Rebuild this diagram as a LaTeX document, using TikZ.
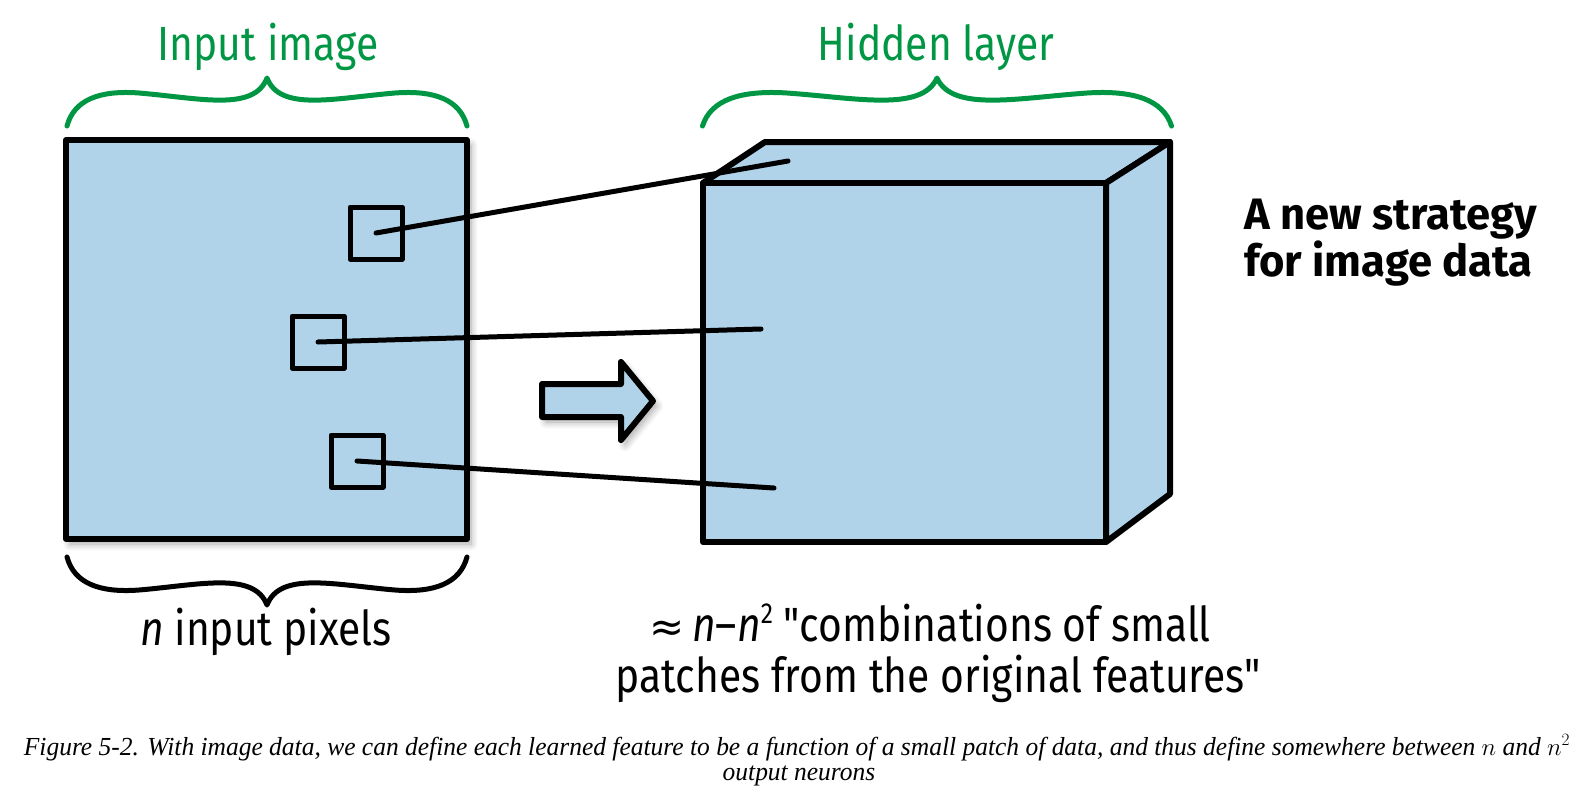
\documentclass[tikz,border=0pt]{standalone}
\usepackage{fontspec}
\setmainfont{Fira Sans}[FakeStretch=0.85, Ligatures=TeXOff]
\newfontfamily\stratfont{Fira Sans}[FakeStretch=0.99]
\newfontfamily\capfont{Liberation Serif}[FakeStretch=0.98]
\newfontfamily\symfont{DejaVu Sans}
\usetikzlibrary{shadows.blur}
\definecolor{boxblue}{RGB}{176,211,234}
\definecolor{bracegreen}{RGB}{0,150,68}
\tikzset{
  box/.style={draw=black, fill=boxblue, line width=6pt, line join=round, inner sep=0pt},
  patch/.style={draw=black, line width=5pt, minimum size=52pt, inner sep=0pt, line join=round},
  link/.style={draw=black, line width=5pt, line cap=round},
  sh/.style={blur shadow={shadow xshift=4pt, shadow yshift=-5pt, shadow blur radius=7pt, shadow blur steps=12, shadow opacity=35}},
  lbl/.style={font=\fontsize{48}{52}\selectfont, inner sep=0pt},
  caption/.style={font=\capfont\itshape\fontsize{26}{30}\selectfont, anchor=base, inner sep=0pt},
  curlybrace/.pic={
    \draw[pic actions, line cap=round, line join=round]
      (-200,48) .. controls (-193,22) and (-168,12) .. (-128,15)
      .. controls (-68,20) and (-13,34) .. (0,0)
      .. controls (13,34) and (68,20) .. (128,15)
      .. controls (168,12) and (193,22) .. (200,48);
  },
}
\newcommand{\suptwo}{\raisebox{0.36em}{\fontsize{29}{29}\selectfont 2}}
\begin{document}
\begin{tikzpicture}[x=1pt,y=-1pt]
\useasboundingbox (0,0) rectangle (1586,790);

% braces
\pic[draw=bracegreen, line width=5pt] at (267,78) {curlybrace};
\pic[draw=bracegreen, line width=5pt, xscale=1.1725] at (937,78) {curlybrace};
\pic[draw=black, line width=5pt, yscale=-1] at (267,605) {curlybrace};

% labels
\node[lbl, text=bracegreen, anchor=base] (inlbl) at (268,60) {Input image};
\node[lbl, text=bracegreen, anchor=base] (hidlbl) at (936,60) {Hidden layer};
\node[lbl, anchor=base] (npix) at (266,645) {\textit{n} input pixels};
\node[lbl, anchor=base] (comb1) at (930,641) {{\symfont\fontsize{42}{42}\selectfont ≈}\,\textit{n}–\textit{n}\suptwo{} "combinations of small};
\node[lbl, anchor=base] (comb2) at (938,692) {patches from the original features"};
\node[font=\stratfont\bfseries\fontsize{44}{47}\selectfont, align=left, anchor=west, inner sep=0pt] (strat) at (1244,243) {A new strategy\\for image data};

% input image
\node[box, sh, minimum width=401pt, minimum height=399pt] (img) at (266.5,339.5) {};
\node[patch] (p1) at (376,233) {};
\node[patch] (p2) at (318,342) {};
\node[patch] (p3) at (357,461) {};

% arrow
\filldraw[box, sh] (542,384) -- (621,384) -- (621,362) -- (653,401) -- (621,440) -- (621,417) -- (542,417) -- cycle;

% hidden layer cube
\coordinate (fTL) at (703,183);
\coordinate (fTR) at (1106,183);
\coordinate (fBR) at (1106,542);
\coordinate (fBL) at (703,542);
\coordinate (bTL) at (765,142);
\coordinate (bTR) at (1170,142);
\coordinate (bBR) at (1170,494);
\filldraw[box] (fTL) -- (bTL) -- (bTR) -- (fTR) -- cycle;
\filldraw[box] (fTR) -- (bTR) -- (bBR) -- (fBR) -- cycle;
\filldraw[box] (fTL) rectangle (fBR);

% connectors
\coordinate (t1) at (788,161);
\coordinate (t2) at (761,329);
\coordinate (t3) at (774,488);
\draw[link] (p1.center) -- (t1);
\draw[link] (p2.center) -- (t2);
\draw[link] (p3.center) -- (t3);

% caption
\node[caption] (cap1) at (797,755) {Figure 5-2. With image data, we can define each learned feature to be a function of a small patch of data, and thus define somewhere between $n$ and $n^2$};
\node[caption] (cap2) at (799,780) {output neurons};
\end{tikzpicture}
\end{document}
